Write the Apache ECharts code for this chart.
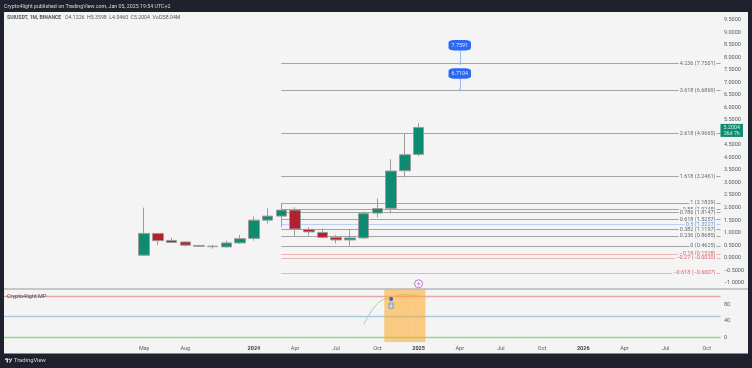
<!DOCTYPE html>
<html><head><meta charset="utf-8">
<style>html,body{margin:0;padding:0;background:#1e222d}#c{width:752px;height:368px;filter:blur(0.3px)}</style>
<script src="https://cdn.jsdelivr.net/npm/echarts@6/dist/echarts.min.js"></script>
</head><body><div id="c"></div>
<script>
const candleMonths = ['May 2023','Jun 2023','Jul 2023','Aug 2023','Sep 2023','Oct 2023','Nov 2023','Dec 2023','Jan 2024','Feb 2024','Mar 2024','Apr 2024','May 2024','Jun 2024','Jul 2024','Aug 2024','Sep 2024','Oct 2024','Nov 2024','Dec 2024','Jan 2025'];
const opens  = [0.10,0.97,0.69,0.63,0.49,0.44,0.43,0.59,0.77,1.50,1.66,1.90,1.13,1.01,0.81,0.71,0.79,1.78,1.97,3.47,4.1226];
const closes = [0.97,0.68,0.61,0.50,0.455,0.46,0.59,0.76,1.50,1.66,1.90,1.145,1.03,0.81,0.71,0.79,1.76,1.96,3.46,4.11,5.2004];
const lows   = [0.08,0.51,0.59,0.44,0.43,0.36,0.41,0.55,0.68,1.36,1.22,0.87,0.88,0.77,0.57,0.4625,0.75,1.61,1.78,3.21,4.0460];
const highs  = [2.00,0.98,0.79,0.64,0.50,0.51,0.68,0.91,1.64,1.97,2.1829,2.01,1.21,1.17,0.91,1.13,1.84,2.36,3.93,4.97,5.3598];
const fibRatios = ['4.236','3.618','2.618','1.618','1','0.85','0.786','0.618','0.5','0.382','0.236','0','-0.18','-0.27','-0.618'];
const fibPrices = [7.7501,6.6869,4.9665,3.2461,2.1829,1.9248,1.8147,1.5257,1.3227,1.1197,0.8685,0.4625,0.1528,-0.0020,-0.6007];
const fibKinds  = ['n','n','n','n','n','n','n','n','b','n','n','n','r','r','r'];
const indicatorMonths = ['Sep 2024','Oct 2024','Nov 2024','Dec 2024','Jan 2025'];
const indicatorValues = [31,82,97,103,100];
const bandLevels = [100,50,0];
const bandKinds = ['#e8a6a6','#a9cbe6','#8fdc8f'];
const highlightMonths = ['Nov 2024','Dec 2024','Jan 2025'];
const targetPrices = [7.7591,6.7104];
const targetTagAt = [8.48,7.35];
const targetLineTo = [7.7501,6.6869];
const tickLabels = {'May 2023':'May','Aug 2023':'Aug','Jan 2024':'2024','Apr 2024':'Apr','Jul 2024':'Jul','Oct 2024':'Oct','Jan 2025':'2025','Apr 2025':'Apr','Jul 2025':'Jul','Oct 2025':'Oct','Jan 2026':'2026','Apr 2026':'Apr','Jul 2026':'Jul','Oct 2026':'Oct'};
const monthNames = ['Jan','Feb','Mar','Apr','May','Jun','Jul','Aug','Sep','Oct','Nov','Dec'];

const categories = [];
for (let y = 2022, m = 6; categories.length < 53; m++) {
  if (m === 12) { m = 0; y++; }
  categories.push(monthNames[m] + ' ' + y);
}
const lastCat = categories[categories.length - 1];
const candleData = categories.map(c => {
  const i = candleMonths.indexOf(c);
  return i < 0 ? '-' : [opens[i], closes[i], lows[i], highs[i]];
});
const FONT = 'Roboto, "Liberation Sans", sans-serif';
const gl = -1.375, gw = 53 * 13.75;
const fibColor = {n:'#a3a3a3', b:'#b9cdf7', r:'#e9b4b4'};
const fibText = {n:'#666b70', b:'#5c8df0', r:'#d9636b'};
const fmt = v => (v < 0 ? '\u2212' : '') + Math.abs(v).toFixed(4);
const fibLabel = (r, p) => r.replace('-', '\u2212') + ' (' + fmt(p) + ')';

const option = {
  animation: false,
  backgroundColor: '#1e222d',
  textStyle: {fontFamily: FONT},
  grid: [
    {left: gl, width: gw, top: 7.2, height: 288.08},
    {left: gl, width: gw, top: 289, height: 53}
  ],
  xAxis: [
    {type:'category', gridIndex:0, data:categories, show:false},
    {type:'category', gridIndex:1, data:categories,
     axisLine:{show:false}, axisTick:{show:false}, splitLine:{show:false},
     axisLabel:{interval:(i,v)=>!!tickLabels[v], margin:4, fontSize:5.5, color:'#555a60',
       hideOverlap:false,
       formatter:v=>{const t=tickLabels[v]||''; return /^20/.test(t)?'{y|'+t+'}':t;},
       rich:{y:{fontWeight:'bold',fontSize:5.5,color:'#3a3e44'}}}}
  ],
  yAxis: [
    {type:'value', gridIndex:0, position:'right', min:-1.5, max:10, interval:0.5, offset:-3.4,
     axisLine:{show:false}, axisTick:{show:false}, splitLine:{show:false},
     axisLabel:{margin:0, fontSize:5.5, color:'#555a60',
       formatter:v=>(v<=-1.5||v>=10)?'':fmt(v)}},
    {type:'value', gridIndex:1, position:'right', min:-11, max:117, offset:-3.4,
     axisLine:{show:false}, axisTick:{show:false}, splitLine:{show:false},
     axisLabel:{margin:0, fontSize:5.5, color:'#555a60', customValues:[0,40,80]}}
  ],
  graphic: [
    {type:'rect', z:-10, shape:{x:4,y:12,width:744,height:341.5}, style:{fill:'#f4f4f4'}},
    {type:'rect', z:-9, shape:{x:4,y:288.2,width:744,height:1.6}, style:{fill:'#b8b8b8'}},
    {type:'text', x:4, y:4, z:10, style:{text:'Crypto4light published on TradingView.com, Jan 05, 2025 19:54 UTC+2', fill:'#d5d7dc', font:'5.3px '+FONT}},
    {type:'text', x:7, y:15.5, z:10, style:{text:'SUIUSDT, 1M, BINANCE', fill:'#50545a', font:'bold 5.1px '+FONT}},
    {type:'text', x:65, y:15.5, z:10, style:{text:'O4.1226  H5.3598  L4.0460  C5.2004  Vol258.04M', fill:'#50545a', font:'5.2px '+FONT}},
    {type:'text', x:7, y:293.3, z:10, style:{text:'Crypto4light MP', fill:'#44484e', font:'5.5px '+FONT}},
    {type:'rect', z:10, shape:{x:5,y:358.5,width:3.4,height:1.4}, style:{fill:'#d5d7dc'}},
    {type:'rect', z:10, shape:{x:6.6,y:358.5,width:1.4,height:4}, style:{fill:'#d5d7dc'}},
    {type:'circle', z:10, shape:{cx:9.4,cy:359.3,r:0.8}, style:{fill:'#d5d7dc'}},
    {type:'polygon', z:10, shape:{points:[[11,358.5],[12.4,358.5],[10.4,362.5],[9,362.5]]}, style:{fill:'#d5d7dc'}},
    {type:'text', x:14, y:357.5, z:10, style:{text:'TradingView', fill:'#d5d7dc', font:'5.8px '+FONT}}
  ],
  series: [
    {type:'line', xAxisIndex:0, yAxisIndex:0, data:[], silent:true, z:1,
     markLine:{z:1, silent:true, symbol:'none', animation:false,
       data:fibPrices.map((p,i)=>[
        {xAxis:'Mar 2024', yAxis:p, lineStyle:{color:fibColor[fibKinds[i]], width:1, type:'solid'},
         label:{show:true, position:'insideEnd', distance:4, formatter:fibLabel(fibRatios[i],p),
          fontSize:5.5, fontFamily:FONT, color:fibText[fibKinds[i]], backgroundColor:'#f4f4f4', padding:[0,1]}},
        {xAxis:lastCat, yAxis:p}
       ])}},
    {type:'candlestick', name:'SUIUSDT', xAxisIndex:0, yAxisIndex:0, data:candleData, barWidth:11, z:3,
     itemStyle:{color:'#0d8c72', color0:'#b2212f', borderColor:'#9c9c9c', borderColor0:'#9c9c9c', borderWidth:1}},
    {type:'line', xAxisIndex:0, yAxisIndex:0, data:[], silent:true, z:4,
     markLine:{z:4, silent:true, symbol:['none','circle'], symbolSize:2.5, animation:false,
       label:{show:false}, lineStyle:{color:'#9cbaf7', width:1, type:'solid'},
       data:targetPrices.map((p,i)=>[{xAxis:'Apr 2025', yAxis:targetTagAt[i]},{xAxis:'Apr 2025', yAxis:targetLineTo[i]}])},
     markPoint:{z:5, silent:true, animation:false, symbol:'roundRect', symbolSize:[22.5,10.5],
       itemStyle:{color:'#2b69f5'},
       label:{show:true, position:'inside', color:'#dfe8ff', fontSize:5.3, fontFamily:FONT, formatter:p=>p.name},
       data:targetPrices.map((p,i)=>({name:p.toFixed(4), coord:['Apr 2025', targetTagAt[i]]}))}},
    {type:'line', xAxisIndex:0, yAxisIndex:0, data:[], silent:true, z:6,
     markPoint:{silent:true, animation:false, symbol:'rect', symbolSize:[22.5,13],
       itemStyle:{color:'#0d8c72'},
       label:{show:true, position:'inside', color:'#d6efe8', fontSize:5.3, lineHeight:6.3, fontFamily:FONT, formatter:'5.2004\n26d 7h'},
       data:[{coord:[lastCat,5.2004], symbolOffset:[11.2,3]}]}},
    {type:'scatter', name:'alert', xAxisIndex:0, yAxisIndex:0, clip:false, z:7, silent:true,
     symbol:'circle', symbolSize:8, itemStyle:{color:'#f7f2fa', borderColor:'#b455cf', borderWidth:1},
     data:[['Jan 2025',-1.04]]},
    {type:'scatter', name:'alert-bolt', xAxisIndex:0, yAxisIndex:0, clip:false, z:8, silent:true,
     symbol:'path://M6 0L0 9H4L3 16L9 6H5Z', symbolSize:[3,5], itemStyle:{color:'#b455cf'},
     data:[['Jan 2025',-1.04]]},
    {type:'line', xAxisIndex:1, yAxisIndex:1, data:[], silent:true, z:1,
     markLine:{z:1, silent:true, symbol:'none', animation:false, label:{show:false},
       data:bandLevels.map((v,i)=>[
        {x:4, yAxis:v, lineStyle:{color:bandKinds[i], width:1.3, type:'solid'}},
        {xAxis:lastCat, yAxis:v}
       ])}},
    {type:'line', name:'Crypto4light MP', xAxisIndex:1, yAxisIndex:1, smooth:0.4, showSymbol:false, z:3, silent:true,
     lineStyle:{color:'#9ed89f', width:1},
     data:indicatorMonths.map((m,i)=>[m,indicatorValues[i]])},
    {type:'custom', name:'highlight', xAxisIndex:1, yAxisIndex:1, z:4, silent:true,
     data:highlightMonths.map(m=>[m,-11,117]),
     encode:{x:0,y:[1,2]},
     renderItem:(params,api)=>{
       const a=api.coord([api.value(0),api.value(2)]);
       const b=api.coord([api.value(0),api.value(1)]);
       const w=api.size([1,0])[0];
       return {type:'rect',shape:{x:a[0]-w/2,y:a[1],width:w,height:b[1]-a[1]},style:{fill:'rgba(255,167,38,0.55)'}};
     }},
    {type:'scatter', name:'signal', xAxisIndex:1, yAxisIndex:1, z:6, silent:true,
     symbol:'circle', symbolSize:4, itemStyle:{color:'#1a3fd0'}, data:[['Nov 2024',93]]},
    {type:'scatter', name:'icon', xAxisIndex:1, yAxisIndex:1, z:6, silent:true,
     symbol:'roundRect', symbolSize:[6,7], itemStyle:{color:'#93a9c4'}, data:[['Nov 2024',76.5]]},
    {type:'scatter', name:'icon-arrow', xAxisIndex:1, yAxisIndex:1, z:7, silent:true,
     symbol:'path://M3 0H5V5H8L4 10L0 5H3Z', symbolSize:[3,4.5], itemStyle:{color:'#ffffff'}, data:[['Nov 2024',76.5]]}
  ]
};
const chart = echarts.init(document.getElementById('c'), null, {renderer:'canvas'});
chart.setOption(option);
</script></body></html>
